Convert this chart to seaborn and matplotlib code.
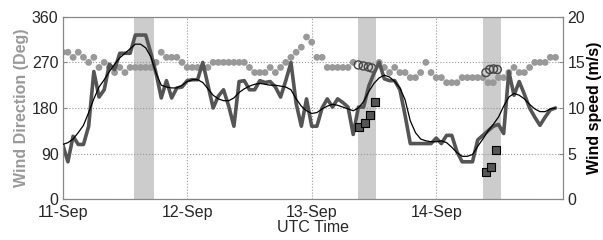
import numpy as np
import matplotlib
matplotlib.use('Agg')
import matplotlib.pyplot as plt
import seaborn as sns

# hourly samples from 11-Sep 00 UTC
hours = np.arange(96)

wind_dir = [290, 290, 280, 290, 280, 270, 280, 260, 270, 260,
            250, 260, 250, 260, 260, 260, 260, 260, 270, 290,
            280, 280, 280, 270, 260, 260, 260, 260, 260, 270,
            270, 270, 270, 270, 270, 270, 260, 250, 250, 250,
            260, 250, 260, 270, 280, 290, 300, 320, 310, 280,
            280, 260, 260, 260, 260, 260, 270, np.nan, np.nan, np.nan,
            np.nan, 270, 260, 250, 260, 250, 250, 240, 240, 250,
            270, 250, 240, 240, 230, 230, 230, 240, 240, 240,
            240, 240, 230, 230, 240, 240, 250, 260, 250, 250,
            260, 270, 270, 270, 280, 280]

wind_spd = [6.0, 4.1, 6.9, 6.0, 6.0, 8.0, 14.0, 11.2, 12.0, 14.8,
            14.2, 16.0, 16.0, 16.0, 18.0, 18.0, 18.0, 16.0, 13.8, 11.1,
            13.0, 11.1, 12.2, 12.3, 13.0, 13.1, 13.1, 15.0, 12.5, 10.0,
            11.3, 12.0, 10.2, 8.0, 12.9, 13.0, 12.0, 12.0, 13.0, 12.8,
            12.9, 12.3, 11.2, 13.0, 15.0, 10.5, 8.0, 11.0, 8.0, 8.0,
            10.0, 11.0, 10.1, 11.0, 10.6, 10.1, 7.1, 10.1, 10.1, 12.4,
            13.8, 15.0, 13.2, 13.0, 13.0, 12.0, 9.2, 6.1, 6.1, 6.1,
            6.1, 6.1, 6.7, 6.1, 7.0, 7.0, 5.2, 4.1, 4.1, 4.1,
            6.5, 7.0, 7.5, 8.0, 8.2, 7.2, 14.0, 11.4, 12.9, 11.5,
            10.0, 9.0, 8.1, 9.0, 9.8, 10.0]

wind_spd_smooth = [6.0, 6.2, 6.6, 7.3, 8.1, 9.5, 11.0, 12.3, 13.1, 14.0,
                   14.8, 15.5, 16.0, 16.5, 17.0, 17.0, 16.6, 15.6, 13.8, 12.5,
                   12.3, 12.2, 12.2, 12.5, 12.9, 13.1, 13.1, 12.8, 12.1, 11.4,
                   11.0, 10.8, 10.8, 11.1, 11.7, 12.1, 12.4, 12.6, 12.7, 12.6,
                   12.5, 12.5, 12.4, 12.3, 12.0, 11.0, 10.2, 9.7, 9.4, 9.5,
                   9.9, 10.2, 10.4, 10.3, 10.1, 9.9, 9.7, 10.0, 10.7, 11.8,
                   12.7, 13.3, 13.6, 13.4, 12.9, 12.2, 10.9, 8.6, 7.3, 6.6,
                   6.4, 6.3, 6.3, 6.4, 6.2, 5.7, 5.1, 4.7, 4.7, 4.9,
                   5.8, 6.6, 7.5, 8.2, 9.0, 10.2, 11.2, 11.6, 11.4, 11.0,
                   10.4, 9.9, 9.6, 9.6, 9.9, 10.0]

# shaded observation windows (days since 11-Sep)
shade_start = [0.573, 2.372, 3.376]
shade_end = [0.736, 2.517, 3.520]

# point observations
obs_dir_t = [2.374, 2.414, 2.455, 2.482, 3.400, 3.430, 3.460, 3.490]
obs_dir = [265, 263, 261, 259, 250, 256, 257, 256]
obs_spd_t = [2.382, 2.425, 2.468, 2.508, 3.400, 3.438, 3.480]
obs_spd = [7.9, 8.4, 9.2, 10.7, 3.0, 3.5, 5.35]

day_ticks = [0, 1, 2, 3]
day_labels = ['11-Sep', '12-Sep', '13-Sep', '14-Sep']
dir_ticks = [0, 90, 180, 270, 360]
spd_ticks = [0, 5, 10, 15, 20]

sns.set_style('white')
plt.rcParams['font.family'] = ['Liberation Sans', 'DejaVu Sans']

days = hours / 24.0

fig = plt.figure(figsize=(6.03, 2.4), dpi=100)
ax = fig.add_axes([0.104, 0.170, 0.830, 0.760])
ax2 = ax.twinx()

for s, e in zip(shade_start, shade_end):
    ax.axvspan(s, e, color='#cccccc', lw=0, zorder=0)

sns.scatterplot(x=days, y=wind_dir, ax=ax, color='#999999', s=24,
                edgecolor='none', zorder=2)
sns.scatterplot(x=obs_dir_t, y=obs_dir, ax=ax, marker='o', s=34,
                facecolor='none', edgecolor='#444444', linewidth=1.0, zorder=3)

sns.lineplot(x=days, y=wind_spd, ax=ax2, color='#555555', linewidth=2.6, zorder=2)
sns.lineplot(x=days, y=wind_spd_smooth, ax=ax2, color='black', linewidth=0.9, zorder=3)
sns.scatterplot(x=obs_spd_t, y=obs_spd, ax=ax2, marker='s', s=32,
                color='#555555', edgecolor='black', linewidth=0.8, zorder=4)

ax.set_xlim(0, 4.02)
ax.set_ylim(0, 360)
ax2.set_ylim(0, 20)
ax.set_xticks(day_ticks)
ax.set_xticklabels(day_labels)
ax.set_yticks(dir_ticks)
ax2.set_yticks(spd_ticks)

ax.set_axisbelow(True)
ax.grid(True, linestyle=':', color='#999999', linewidth=0.8)
ax2.grid(False)

ax.set_xlabel('UTC Time', fontsize=11.5, labelpad=0)
ax.set_ylabel('Wind Direction (Deg)', fontsize=11.5, fontweight='bold',
              color='#999999', labelpad=2)
ax2.set_ylabel('Wind speed (m/s)', fontsize=11.5, fontweight='bold',
               color='black', labelpad=1)

for a in (ax, ax2):
    a.tick_params(direction='in', length=3, labelsize=11.5, color='#888888', pad=3)
    for sp in a.spines.values():
        sp.set_color('#888888')
        sp.set_linewidth(0.8)
ax.tick_params(axis='x', pad=4.5)

fig.savefig('out.png', dpi=100)
